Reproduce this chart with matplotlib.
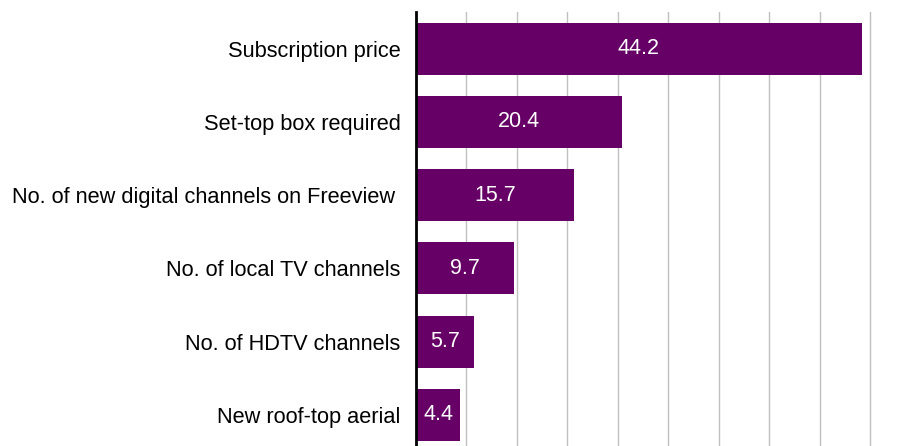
import matplotlib.pyplot as plt

# Reasons
categories = ['Subscription price', 'Set-top box required',
              'No. of new digital channels on Freeview ',
              'No. of local TV channels', 'No. of HDTV channels',
              'New roof-top aerial']
values = [44.2, 20.4, 15.7, 9.7, 5.7, 4.4]

plt.rcParams['font.family'] = ['Liberation Sans', 'DejaVu Sans']

fig = plt.figure(figsize=(9.08, 4.46), dpi=100)
# plot area: left axis at x=416 px, scale ~10.08 px per unit, top at 12 px
ax = fig.add_axes([416 / 908, 1 - 451.6 / 446, (872 - 416) / 908, (451.6 - 12) / 446])

pos = list(range(len(categories)))
bars = ax.barh(pos, values, height=0.71, color='#660066', zorder=2)
for b, v in zip(bars, values):
    ax.text(b.get_x() + b.get_width() / 2, b.get_y() + b.get_height() / 2,
            f'{v:.1f}', ha='center', va='center', color='white', fontsize=15.5, zorder=3)

ax.set_yticks(pos)
ax.set_yticklabels(categories, fontsize=15.7)
ax.set_ylim(len(categories) - 0.5, -0.5)
ax.set_xlim(0, 45.2)
ax.set_xticks(range(5, 50, 5))
ax.tick_params(axis='x', length=0, labelbottom=False)
ax.tick_params(axis='y', length=0, pad=11)
ax.grid(axis='x', color='#c0c0c0', linewidth=1, zorder=0)
for s in ['top', 'right', 'bottom']:
    ax.spines[s].set_visible(False)
ax.spines['left'].set_linewidth(2)
ax.spines['left'].set_color('black')
ax.spines['left'].set_zorder(4)

fig.savefig('out.png', dpi=100)
